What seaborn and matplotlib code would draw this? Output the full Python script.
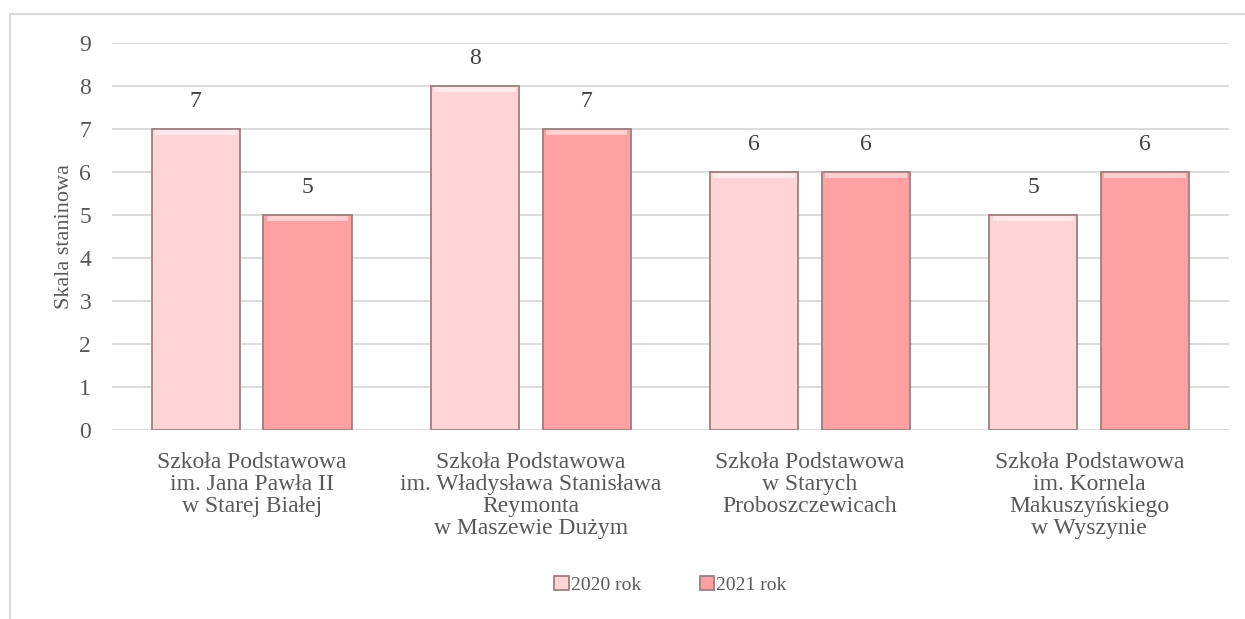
import pandas as pd
import seaborn as sns
import matplotlib
matplotlib.use('Agg')
import matplotlib.pyplot as plt
from matplotlib.patches import Rectangle
from matplotlib.lines import Line2D

# chart data
schools = [
    "Szkoła Podstawowa\nim. Jana Pawła II\nw Starej Białej",
    "Szkoła Podstawowa\nim. Władysława Stanisława\nReymonta\nw Maszewie Dużym",
    "Szkoła Podstawowa\nw Starych\nProboszczewicach",
    "Szkoła Podstawowa\nim. Kornela\nMakuszyńskiego\nw Wyszynie",
]
years = ["2020 rok", "2021 rok"]
values_2020 = [7, 8, 6, 5]
values_2021 = [5, 7, 6, 6]

df = pd.DataFrame({
    "school": schools * 2,
    "year": [years[0]] * 4 + [years[1]] * 4,
    "value": values_2020 + values_2021,
})

sns.set_style("white")
plt.rcParams['font.family'] = ['Liberation Serif', 'DejaVu Serif']
text_col = "#595959"
fs = 17

fig = plt.figure(figsize=(12.45, 6.19), dpi=100)
ax = fig.add_axes([0.09, 0.3053, 0.897, 0.6252])

palette = {years[0]: "#FFD4D6", years[1]: "#FFA0A2"}
sns.barplot(data=df, x="school", y="value", hue="year", palette=palette,
            width=0.8, gap=0.21, edgecolor="#9C7F80", linewidth=1.3,
            saturation=1, ax=ax, legend=True)

# light bevel strip at top of each bar
for p in ax.patches:
    if p.get_height() > 0:
        ax.add_patch(Rectangle((p.get_x() + 0.012, p.get_height() - 0.14),
                               p.get_width() - 0.024, 0.11,
                               facecolor="white", alpha=0.5, lw=0, zorder=3))

for c in ax.containers:
    ax.bar_label(c, fmt="%d", padding=12, fontsize=fs, color="#404040")

ax.set_ylim(0, 9)
ax.set_xlim(-0.5, 3.5)
ax.set_yticks(range(10))
ax.yaxis.grid(True, color="#D9D9D9", lw=1.3)
ax.set_axisbelow(True)
for s in ax.spines.values():
    s.set_visible(False)
ax.tick_params(axis="both", length=0, labelsize=fs, colors=text_col)
ax.tick_params(axis="x", pad=16)
ax.tick_params(axis="y", pad=15)
ax.set_xlabel("")
ax.set_ylabel("Skala staninowa", fontsize=16, color=text_col, labelpad=4)
for t in ax.get_xticklabels():
    t.set_linespacing(1.05)

handles, labels = ax.get_legend_handles_labels()
ax.legend(handles, labels, loc="center", bbox_to_anchor=(0.5, -0.4),
          ncol=2, frameon=False, fontsize=14, handlelength=0.75, handleheight=0.75,
          handletextpad=0.1, columnspacing=3.0, labelcolor=text_col)

# outer chart border (left and top only are visible)
border = Line2D([10 / 1245, 10 / 1245, 1.0], [0.0, 1 - 14 / 619, 1 - 14 / 619],
                transform=fig.transFigure, color="#D9D9D9", lw=1.5)
fig.lines.append(border)

fig.savefig("out.png", dpi=100)
